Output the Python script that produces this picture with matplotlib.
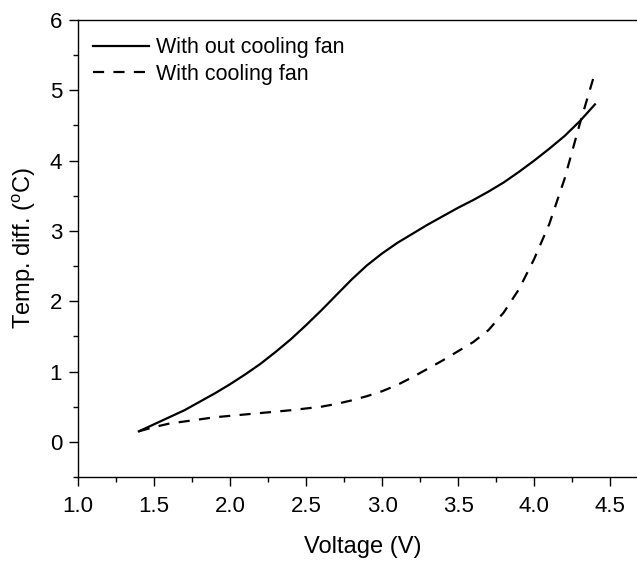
import matplotlib

matplotlib.use("Agg")
import matplotlib.pyplot as plt
from matplotlib.ticker import FormatStrFormatter, MultipleLocator

# values
volt_no_fan = [1.4, 1.5, 1.6, 1.7, 1.8, 1.9, 2.0, 2.1, 2.2, 2.3, 2.4, 2.5, 2.6, 2.7, 2.8, 2.9,
               3.0, 3.1, 3.2, 3.3, 3.4, 3.5, 3.6, 3.7, 3.8, 3.9, 4.0, 4.1, 4.2, 4.3, 4.4]
temp_no_fan = [0.15, 0.25, 0.35, 0.45, 0.57, 0.69, 0.82, 0.96, 1.11, 1.28, 1.46, 1.66, 1.87, 2.09, 2.31, 2.51,
               2.68, 2.83, 2.96, 3.09, 3.21, 3.33, 3.44, 3.56, 3.69, 3.84, 4.00, 4.17, 4.35, 4.56, 4.80]

volt_fan = [1.4, 1.5, 1.6, 1.7, 1.8, 1.9, 2.0, 2.2, 2.4, 2.6, 2.7, 2.8, 2.9, 3.0, 3.1, 3.2,
            3.3, 3.4, 3.5, 3.6, 3.7, 3.8, 3.9, 4.0, 4.1, 4.2, 4.3, 4.4]
temp_fan = [0.15, 0.21, 0.26, 0.29, 0.32, 0.35, 0.37, 0.41, 0.45, 0.50, 0.54, 0.59, 0.65, 0.72, 0.81, 0.92,
            1.04, 1.16, 1.29, 1.42, 1.59, 1.84, 2.17, 2.60, 3.10, 3.74, 4.52, 5.25]

labels = ["With out cooling fan", "With cooling fan"]

plt.rcParams["font.family"] = ["Liberation Sans", "DejaVu Sans"]
plt.rcParams["mathtext.fontset"] = "custom"
plt.rcParams["mathtext.rm"] = "Liberation Sans"

fig = plt.figure(figsize=(6.37, 5.61), dpi=100)
ax = fig.add_axes([0.1225, 0.1497, 0.895, 0.8146])

ax.plot(volt_no_fan, temp_no_fan, color="black", lw=1.6, label=labels[0])
ax.plot(volt_fan, temp_fan, color="black", lw=1.6, dashes=(5, 4.2), label=labels[1])

ax.set_xlim(1.0, 4.75)
ax.set_ylim(-0.5, 6)
ax.xaxis.set_major_locator(MultipleLocator(0.5))
ax.xaxis.set_minor_locator(MultipleLocator(0.25))
ax.yaxis.set_major_locator(MultipleLocator(1))
ax.yaxis.set_minor_locator(MultipleLocator(0.5))
ax.xaxis.set_major_formatter(FormatStrFormatter("%.1f"))
ax.tick_params(which="both", direction="out", width=1.0, labelsize=16)
ax.tick_params(which="major", length=6.5)
ax.tick_params(which="minor", length=3.5)
ax.tick_params(axis="x", which="major", pad=7)
ax.tick_params(axis="y", which="major", pad=5)
ax.spines["right"].set_visible(False)
for s in ("left", "bottom", "top"):
    ax.spines[s].set_linewidth(1.0)

ax.set_xlabel("Voltage (V)", fontsize=17, labelpad=14)
ax.set_ylabel(r"Temp. diff. ($^\mathrm{o}$C)", fontsize=17, labelpad=8)

ax.legend(loc="upper left", frameon=False, fontsize=15.5, handlelength=2.6,
          handletextpad=0.3, labelspacing=0.25, borderaxespad=0.3,
          bbox_to_anchor=(0.0, 0.995))

fig.savefig("out.png", dpi=100)
